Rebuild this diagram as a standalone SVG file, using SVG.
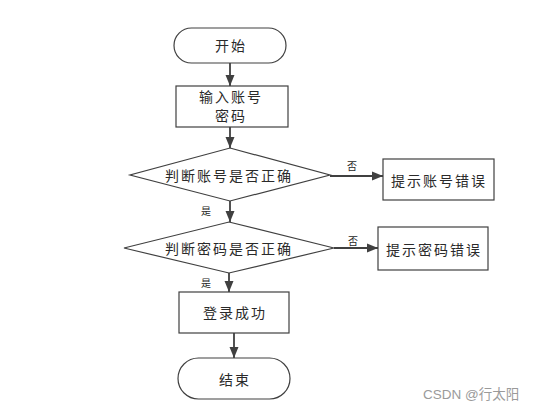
<svg xmlns="http://www.w3.org/2000/svg" width="538" height="412" viewBox="0 0 538 412">
<style>
.shape{fill:#ffffff;stroke:#404040;stroke-width:1.2}
.lbl{font-family:"Noto Sans CJK SC","Noto Sans",sans-serif;font-size:14px;fill:#2a2a2a;text-anchor:middle;dominant-baseline:central;letter-spacing:2px}
.small{font-family:"Noto Sans CJK SC","Noto Sans",sans-serif;font-size:10px;fill:#262626;text-anchor:middle;dominant-baseline:central}
.edge{stroke:#404040;stroke-width:1.8;fill:none;marker-end:url(#arr)}
.wm{font-family:"Liberation Sans","Noto Sans CJK SC",sans-serif;font-size:13.5px;fill:#9a9a9a}
</style>
<defs>
<marker id="arr" markerUnits="userSpaceOnUse" markerWidth="12" markerHeight="12" viewBox="0 0 12 12" refX="11" refY="6" orient="auto">
<path d="M0,1.5 L11,6 L0,10.5 Z" fill="#404040"/>
</marker>
</defs>
<rect width="538" height="412" fill="#ffffff"/>
<g id="connectors">
<line class="edge" x1="230" y1="63" x2="230" y2="86"/>
<line class="edge" x1="230" y1="127" x2="230" y2="148"/>
<line class="edge" x1="230" y1="201" x2="230" y2="222"/>
<line class="edge" x1="229" y1="273" x2="229" y2="292"/>
<line class="edge" x1="234" y1="333" x2="234" y2="358"/>
<line class="edge" x1="330" y1="176" x2="383" y2="176"/>
<line class="edge" x1="334" y1="248" x2="378" y2="248"/>
<text class="small" x="352" y="165">否</text>
<text class="small" x="206" y="210">是</text>
<text class="small" x="353" y="240">否</text>
<text class="small" x="206" y="282">是</text>
</g>
<g id="start">
<rect class="shape" x="174" y="28" width="112" height="35" rx="17.5"/>
<text class="lbl" x="231" y="45">开始</text>
</g>
<g id="input">
<rect class="shape" x="176" y="86" width="112" height="41"/>
<text class="lbl" x="231" y="96">输入账号</text>
<text class="lbl" x="231" y="115">密码</text>
</g>
<g id="checkAccount">
<polygon class="shape" points="230,148 330,175 230,201 130,175"/>
<text class="lbl" x="229" y="175">判断账号是否正确</text>
</g>
<g id="accountError">
<rect class="shape" x="383" y="159" width="111" height="41"/>
<text class="lbl" x="439" y="180">提示账号错误</text>
</g>
<g id="checkPassword">
<polygon class="shape" points="229,222 334,248 229,273 124,248"/>
<text class="lbl" x="229" y="248">判断密码是否正确</text>
</g>
<g id="passwordError">
<rect class="shape" x="378" y="227" width="110" height="43"/>
<text class="lbl" x="434" y="249">提示密码错误</text>
</g>
<g id="success">
<rect class="shape" x="179" y="292" width="110" height="41"/>
<text class="lbl" x="235" y="312">登录成功</text>
</g>
<g id="end">
<rect class="shape" x="178" y="358" width="112" height="41" rx="20.5"/>
<text class="lbl" x="235" y="379">结束</text>
</g>
<text class="wm" x="423" y="399">CSDN @行太阳</text>
</svg>
